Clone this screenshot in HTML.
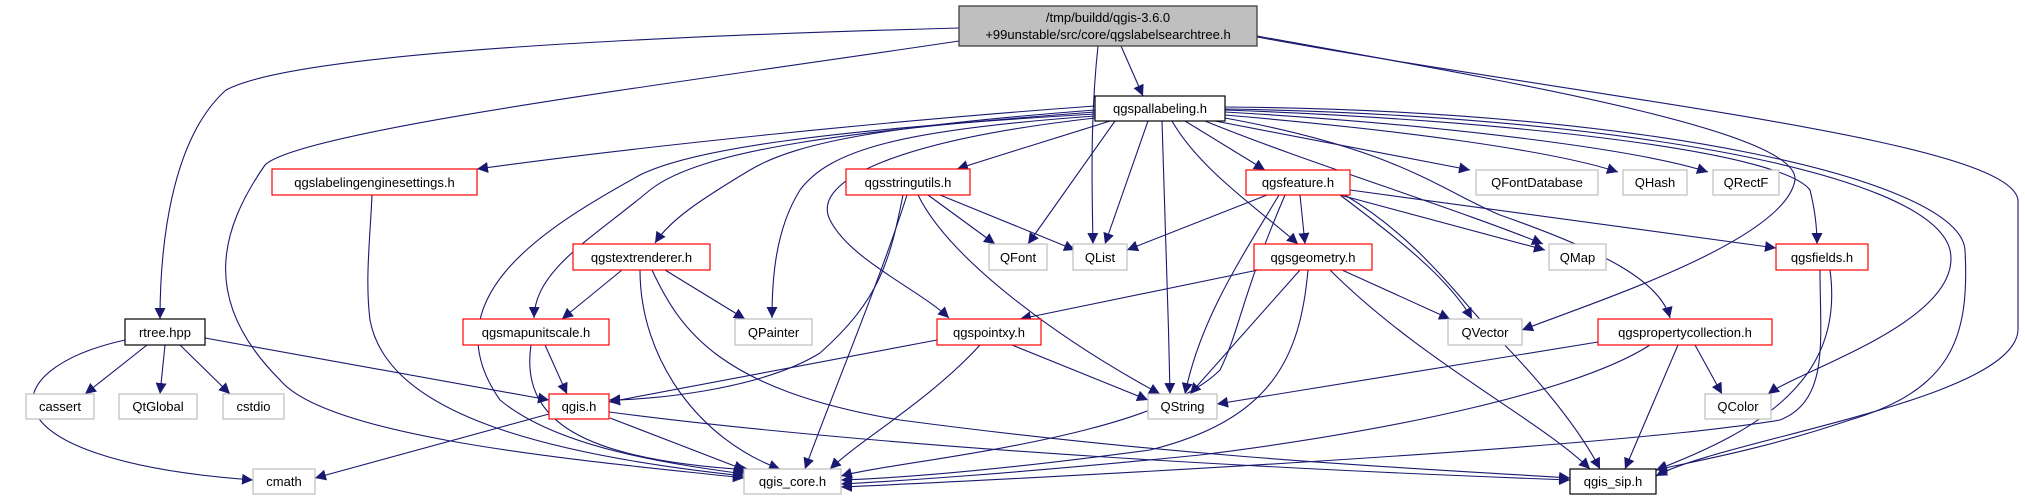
<!DOCTYPE html>
<html><head><meta charset="utf-8"><style>
html,body{margin:0;padding:0;background:#fff;}
svg{display:block;}
text{font-family:"Liberation Sans",sans-serif;font-size:13px;fill:#000;text-anchor:middle;}
.e{fill:none;stroke:#191970;stroke-width:1.1;marker-end:url(#a);}
.r{fill:#fff;stroke:#ff0000;stroke-width:1.2;}
.g{fill:#fff;stroke:#bfbfbf;stroke-width:1.2;}
.b{fill:#fff;stroke:#000;stroke-width:1.2;}
</style></head><body>
<svg width="2025" height="500" viewBox="0 0 2025 500" xmlns="http://www.w3.org/2000/svg">
<defs><marker id="a" viewBox="0 0 10 10" refX="10" refY="5" markerWidth="11" markerHeight="11" markerUnits="userSpaceOnUse" orient="auto"><path d="M0,0 L10,5 L0,10 z" fill="#191970"/></marker></defs>
<!-- edges -->
<path class="e" d="M1121,46 L1143,96"/>
<path class="e" d="M1098,46 C1090,120 1092,190 1093,244"/>
<path class="e" d="M959,28 C700,35 300,50 226,90 C170,140 160,250 160,319"/>
<path class="e" d="M959,41 C700,80 300,130 265,165 C220,230 200,300 280,380 C330,440 600,462 744,478"/>
<path class="e" d="M1257,36 C1500,80 1800,130 1795,180 C1785,240 1600,300 1522,330"/>
<path class="e" d="M1257,37 C1600,100 2010,140 2018,200 L2018,330 C2015,400 1720,440 1656,476"/>
<path class="e" d="M1095,106 C900,120 650,145 477,169"/>
<path class="e" d="M1110,121 C1050,140 1000,155 957,169"/>
<path class="e" d="M1095,110 C900,125 800,140 750,170 C700,200 670,220 655,243"/>
<path class="e" d="M1095,112 C850,130 700,150 650,190 C590,240 535,270 534,318"/>
<path class="e" d="M1095,114 C820,130 690,150 640,175 C540,230 430,300 500,400 C560,450 680,465 744,474"/>
<path class="e" d="M1095,116 C900,130 830,150 800,190 C775,230 772,280 772,318"/>
<path class="e" d="M1095,118 C900,140 810,180 830,220 C850,260 920,290 949,318"/>
<path class="e" d="M1115,121 L1028,244"/>
<path class="e" d="M1148,121 L1105,244"/>
<path class="e" d="M1162,121 C1165,200 1168,300 1170,394"/>
<path class="e" d="M1185,121 L1265,170"/>
<path class="e" d="M1172,121 C1200,170 1260,210 1298,244"/>
<path class="e" d="M1215,121 L1470,170"/>
<path class="e" d="M1225,115 C1400,130 1550,150 1618,172"/>
<path class="e" d="M1225,112 C1450,125 1640,150 1708,172"/>
<path class="e" d="M1205,121 C1300,160 1460,210 1543,244"/>
<path class="e" d="M1225,118 C1400,150 1440,190 1500,215 C1600,250 1660,280 1670,318"/>
<path class="e" d="M1225,110 C1500,120 1780,150 1810,190 C1815,210 1817,230 1817,244"/>
<path class="e" d="M1225,109 C1600,115 1930,170 1950,250 C1965,320 1800,370 1768,394"/>
<path class="e" d="M1225,107 C1650,110 1960,180 1965,250 C1970,340 1950,390 1850,420 C1760,450 1700,460 1656,470"/>
<path class="e" d="M372,195 C370,240 365,280 370,320 C385,400 500,450 744,476"/>
<path class="e" d="M903,195 C890,260 880,300 820,353 C760,390 650,400 609,400"/>
<path class="e" d="M907,195 C880,280 830,400 805,469"/>
<path class="e" d="M928,195 L995,244"/>
<path class="e" d="M940,195 L1075,250"/>
<path class="e" d="M918,195 C950,260 1060,340 1160,394"/>
<path class="e" d="M622,270 L562,319"/>
<path class="e" d="M665,270 L745,319"/>
<path class="e" d="M640,270 C640,360 700,440 780,469"/>
<path class="e" d="M652,270 C680,330 720,390 900,420 C1200,460 1450,470 1570,478"/>
<path class="e" d="M545,345 L567,394"/>
<path class="e" d="M531,345 C520,420 580,460 750,470"/>
<path class="e" d="M147,345 L85,394"/>
<path class="e" d="M165,345 L160,394"/>
<path class="e" d="M180,345 L230,394"/>
<path class="e" d="M205,338 L549,400"/>
<path class="e" d="M125,340 C-10,370 -20,460 253,480"/>
<path class="e" d="M549,414 L315,478"/>
<path class="e" d="M610,418 L745,470"/>
<path class="e" d="M609,412 C900,450 1300,470 1570,480"/>
<path class="e" d="M937,340 L609,402"/>
<path class="e" d="M1012,345 L1148,400"/>
<path class="e" d="M980,345 C930,400 860,440 830,469"/>
<path class="e" d="M1267,195 L1127,250"/>
<path class="e" d="M1300,195 L1305,244"/>
<path class="e" d="M1279,195 C1240,260 1200,320 1185,394"/>
<path class="e" d="M1285,195 C1240,300 1240,330 1220,370 C1150,440 900,460 841,476"/>
<path class="e" d="M1340,195 C1400,240 1450,280 1472,319"/>
<path class="e" d="M1340,195 L1545,250"/>
<path class="e" d="M1345,195 C1420,240 1460,300 1490,330 C1540,380 1580,430 1600,469"/>
<path class="e" d="M1350,190 L1776,248"/>
<path class="e" d="M1258,270 L1020,319"/>
<path class="e" d="M1300,270 L1190,394"/>
<path class="e" d="M1342,270 L1450,319"/>
<path class="e" d="M1308,270 C1300,360 1270,420 1150,450 C1000,470 900,478 841,480"/>
<path class="e" d="M1330,270 C1420,360 1540,420 1590,469"/>
<path class="e" d="M1598,342 L1217,404"/>
<path class="e" d="M1650,345 C1580,390 1400,430 1200,455 C1000,475 880,482 841,484"/>
<path class="e" d="M1678,345 L1625,469"/>
<path class="e" d="M1695,345 L1722,394"/>
<path class="e" d="M1820,270 C1820,340 1830,400 1780,420 C1600,450 1000,480 841,487"/>
<path class="e" d="M1830,270 C1845,380 1760,430 1656,470"/>
<!-- nodes -->
<rect x="959" y="6" width="298" height="40" fill="#bfbfbf" stroke="#404040" stroke-width="1.3"/>
<text x="1108" y="22">/tmp/buildd/qgis-3.6.0</text>
<text x="1108" y="39">+99unstable/src/core/qgslabelsearchtree.h</text>
<rect class="b" x="1095" y="96" width="130" height="25"/><text x="1160" y="113">qgspallabeling.h</text>
<rect class="r" x="272" y="169" width="205" height="26"/><text x="374.5" y="187">qgslabelingenginesettings.h</text>
<rect class="r" x="846" y="169" width="124" height="26"/><text x="908" y="187">qgsstringutils.h</text>
<rect class="r" x="1246" y="170" width="104" height="25"/><text x="1298" y="187">qgsfeature.h</text>
<rect class="g" x="1476" y="170" width="122" height="25"/><text x="1537" y="187">QFontDatabase</text>
<rect class="g" x="1623" y="170" width="64" height="25"/><text x="1655" y="187">QHash</text>
<rect class="g" x="1713" y="170" width="66" height="25"/><text x="1746" y="187">QRectF</text>
<rect class="r" x="573" y="244" width="137" height="26"/><text x="641.5" y="262">qgstextrenderer.h</text>
<rect class="g" x="989" y="244" width="58" height="26"/><text x="1018" y="262">QFont</text>
<rect class="g" x="1073" y="244" width="54" height="26"/><text x="1100" y="262">QList</text>
<rect class="r" x="1254" y="244" width="118" height="26"/><text x="1313" y="262">qgsgeometry.h</text>
<rect class="g" x="1549" y="244" width="57" height="26"/><text x="1577.5" y="262">QMap</text>
<rect class="r" x="1776" y="244" width="92" height="26"/><text x="1822" y="262">qgsfields.h</text>
<rect class="b" x="125" y="319" width="80" height="26"/><text x="165" y="337">rtree.hpp</text>
<rect class="r" x="463" y="319" width="146" height="26"/><text x="536" y="337">qgsmapunitscale.h</text>
<rect class="g" x="735" y="319" width="77" height="26"/><text x="773.5" y="337">QPainter</text>
<rect class="r" x="937" y="319" width="104" height="26"/><text x="989" y="337">qgspointxy.h</text>
<rect class="g" x="1448" y="319" width="74" height="26"/><text x="1485" y="337">QVector</text>
<rect class="r" x="1598" y="319" width="174" height="26"/><text x="1685" y="337">qgspropertycollection.h</text>
<rect class="g" x="26" y="394" width="68" height="25"/><text x="60" y="411">cassert</text>
<rect class="g" x="119" y="394" width="78" height="25"/><text x="158" y="411">QtGlobal</text>
<rect class="g" x="223" y="394" width="61" height="25"/><text x="253.5" y="411">cstdio</text>
<rect class="r" x="549" y="394" width="60" height="25"/><text x="579" y="411">qgis.h</text>
<rect class="g" x="1148" y="394" width="69" height="25"/><text x="1182.5" y="411">QString</text>
<rect class="g" x="1705" y="394" width="66" height="25"/><text x="1738" y="411">QColor</text>
<rect class="g" x="253" y="469" width="62" height="25"/><text x="284" y="486">cmath</text>
<rect class="g" x="744" y="469" width="97" height="25"/><text x="792.5" y="486">qgis_core.h</text>
<rect class="b" x="1570" y="469" width="86" height="25"/><text x="1613" y="486">qgis_sip.h</text>
</svg>
</body></html>
